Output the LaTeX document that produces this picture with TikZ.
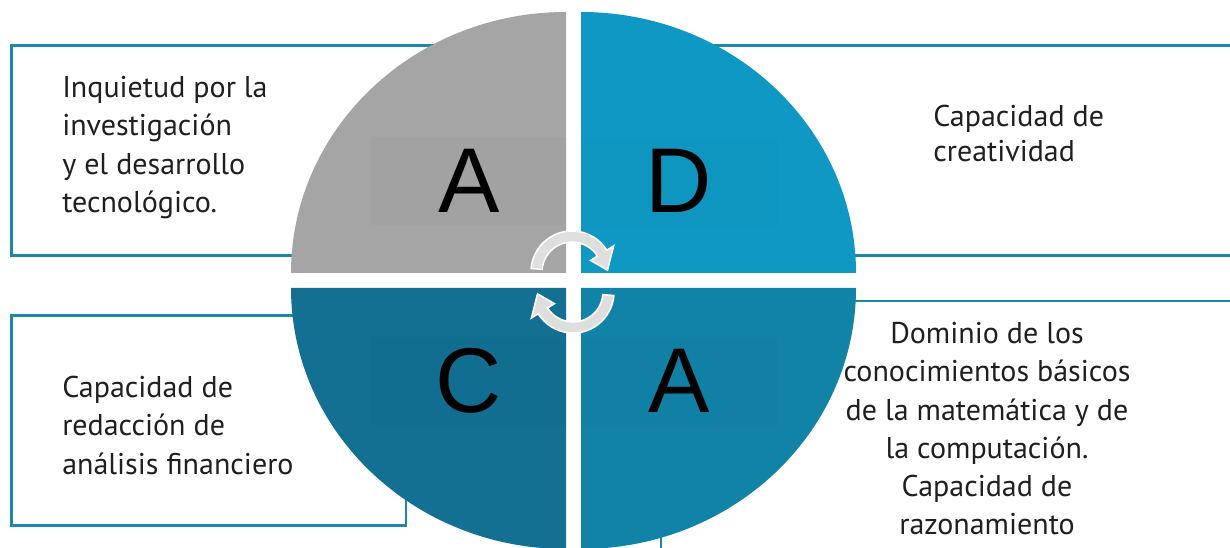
\documentclass[tikz,border=0pt]{standalone}
\usepackage{fontspec}
\setmainfont{PT Sans}
\newfontfamily\letterfont{Liberation Sans}
\definecolor{quadgray}{HTML}{A5A5A5}
\definecolor{quadsky}{HTML}{0F98C4}
\definecolor{quaddeep}{HTML}{137093}
\definecolor{quadteal}{HTML}{1183A7}
\definecolor{boxline}{HTML}{1C87AA}
\definecolor{turngray}{HTML}{DEDEDE}

\begin{document}
\begin{tikzpicture}[
  x=0.75pt, y=0.75pt,
  box/.style    = {draw=boxline, line width=1.9pt},
  letter/.style = {font=\letterfont\fontsize{69}{69}\selectfont,
                   minimum width=147pt, minimum height=66pt, inner sep=0pt,
                   fill=black, fill opacity=0.015, text opacity=1},
  txt/.style    = {font=\fontsize{22.5}{28.7}\selectfont, inner sep=0pt,
                   text=black!88},
  turn/.style   = {fill=turngray, draw=white, line width=1.2pt}
]
  \useasboundingbox (0,0) rectangle (1230,548);
  \clip (0,0) rectangle (1230,548);

  %% Frames behind the disc
  \draw[box] (11.7,292.7) rectangle (500,502.7);
  \draw[box] (650,292.7)  rectangle (1240,502.7);
  \draw[box] (11.7,22.7)  rectangle (406,232.7);
  \draw[box] (661,-20)    rectangle (1240,247);

  %% Four quarters of the disc
  \fill[quadgray] (566,275) -- (291,275)
       arc[start angle=180, end angle=90, x radius=206.25pt, y radius=195.75pt] -- cycle;
  \fill[quadsky]  (581,275) -- (581,536)
       arc[start angle=90, end angle=0, x radius=206.25pt, y radius=195.75pt] -- cycle;
  \fill[quaddeep] (566,260) -- (291,260)
       arc[start angle=180, end angle=270, x radius=206.25pt, y radius=195.75pt] -- cycle;
  \fill[quadteal] (581,260) -- (856,260)
       arc[start angle=0, end angle=-90, x radius=206.25pt, y radius=195.75pt] -- cycle;

  %% Letters
  \node[letter] (letA) at (469,367) {A};
  \node[letter] (letD) at (679,367) {D};
  \node[letter] (letC) at (469,167) {C};
  \node[letter] (letB) at (679,167) {A};

  %% Turning arrows in the middle
  \foreach \cx/\cy/\rot in {572/276/0, 573/256/180}{
    \begin{scope}[shift={(\cx,\cy)}, rotate=\rot]
      \filldraw[turn] (175:41) arc[start angle=175, end angle=32, radius=30.75pt]
        -- (32:49) -- (3:35.5) -- (32:22) -- (32:30)
        arc[start angle=32, end angle=175, radius=22.5pt] -- cycle;
    \end{scope}
  }

  %% Texts
  \node[txt, anchor=north west, align=left] (txtInq) at (62,472)
       {Inquietud por la\\investigación\\y el desarrollo\\tecnológico.};
  \node[txt, anchor=north west, align=left,
        font=\fontsize{22.5}{26.25}\selectfont] (txtCre) at (933,443)
       {Capacidad de\\creatividad};
  \node[txt, anchor=north west, align=left] (txtRed) at (62,172)
       {Capacidad de\\redacción de\\análisis financiero};
  \node[txt, anchor=north, align=center] (txtDom) at (987,226)
       {Dominio de los\\conocimientos básicos\\de la matemática y de\\la computación.\\Capacidad de\\razonamiento};
\end{tikzpicture}
\end{document}
